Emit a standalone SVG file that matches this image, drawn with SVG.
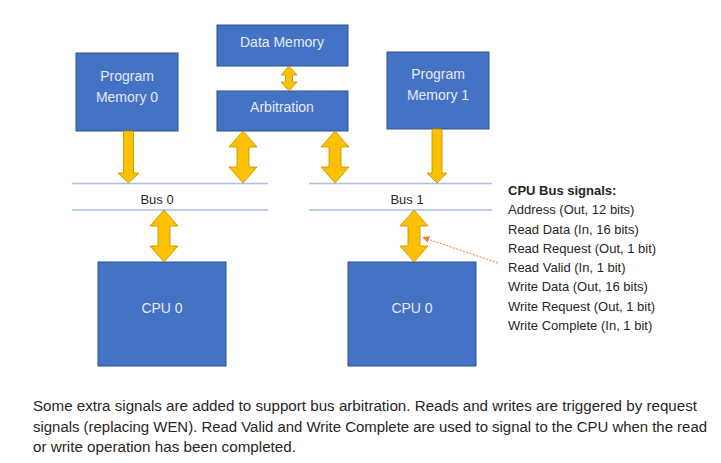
<svg xmlns="http://www.w3.org/2000/svg" width="721" height="463" viewBox="0 0 721 463">
<style>
.box{fill:#4472C4;stroke:#2F528F;stroke-width:1}
.bt{font-family:"Liberation Sans",Arial,sans-serif;font-size:14px;fill:#E4EAF6;text-anchor:middle}
.arr{fill:#FFC000;stroke:#BF9000;stroke-width:0.8}
.bus{stroke:#A9C0E6;stroke-width:1.5}
.bl{font-family:"Liberation Sans",Arial,sans-serif;font-size:13px;fill:#262626;text-anchor:middle}
.sig{font-family:"Liberation Sans",Arial,sans-serif;font-size:13px;fill:#262626}
.para{font-family:"Liberation Sans",Arial,sans-serif;font-size:14px;fill:#262626}
</style>
<defs>
<marker id="oh" viewBox="0 0 10 10" refX="9" refY="5" markerWidth="7" markerHeight="7" orient="auto">
<path d="M0,0 L10,5 L0,10 Z" fill="#ED7D31"/>
</marker>
</defs>
<rect width="721" height="463" fill="#FFFFFF"/>

<g id="bus0">
<line class="bus" x1="72" y1="183.5" x2="268" y2="183.5"/>
<line class="bus" x1="72" y1="210" x2="268" y2="210"/>
<text class="bl" x="157" y="204">Bus 0</text>
</g>
<g id="bus1">
<line class="bus" x1="309" y1="183.5" x2="492" y2="183.5"/>
<line class="bus" x1="309" y1="210" x2="492" y2="210"/>
<text class="bl" x="407" y="204">Bus 1</text>
</g>

<g id="pm0">
<rect class="box" x="76" y="53" width="102" height="78"/>
<text class="bt" x="127" y="81">Program</text>
<text class="bt" x="127" y="102">Memory 0</text>
</g>
<g id="datamem">
<rect class="box" x="217" y="25" width="131" height="41"/>
<text class="bt" x="282" y="47">Data Memory</text>
</g>
<g id="arb">
<rect class="box" x="217" y="91" width="131" height="40"/>
<text class="bt" x="282" y="112">Arbitration</text>
</g>
<g id="pm1">
<rect class="box" x="387" y="52" width="102" height="77"/>
<text class="bt" x="438" y="79">Program</text>
<text class="bt" x="438" y="100">Memory 1</text>
</g>
<g id="cpu0">
<rect class="box" x="98" y="262" width="128" height="104"/>
<text class="bt" x="162" y="313">CPU 0</text>
</g>
<g id="cpu1">
<rect class="box" x="348" y="262" width="128" height="104"/>
<text class="bt" x="412" y="313">CPU 0</text>
</g>

<g id="connectors">
<path class="arr" d="M289,66 L297,75 L292.5,75 L292.5,82 L297,82 L289,91 L281,82 L285.5,82 L285.5,75 L281,75 Z"/>
<path class="arr" d="M123.5,131 L133.5,131 L133.5,173 L139,173 L128.5,183 L118,173 L123.5,173 Z"/>
<path class="arr" d="M432,129 L442,129 L442,173 L447,173 L437,183 L427,173 L432,173 Z"/>
<path class="arr" d="M243,131 L257,147 L249,147 L249,167 L257,167 L243,183 L229,167 L237,167 L237,147 L229,147 Z"/>
<path class="arr" d="M335,131 L349,147 L341,147 L341,167 L349,167 L335,183 L321,167 L329,167 L329,147 L321,147 Z"/>
<path class="arr" d="M164,210 L178,226 L170,226 L170,246 L178,246 L164,262 L150,246 L158,246 L158,226 L150,226 Z"/>
<path class="arr" d="M414,210 L428,226 L420,226 L420,246 L428,246 L414,262 L400,246 L408,246 L408,226 L400,226 Z"/>
<line x1="498" y1="263" x2="423" y2="237.5" stroke="#ED7D31" stroke-width="1" stroke-dasharray="2,1.5" marker-end="url(#oh)"/>
</g>

<g id="signals">
<text class="sig" x="508" y="195" font-weight="bold">CPU Bus signals:</text>
<text class="sig" x="508" y="214">Address (Out, 12 bits)</text>
<text class="sig" x="508" y="233.5">Read Data (In, 16 bits)</text>
<text class="sig" x="508" y="253">Read Request (Out, 1 bit)</text>
<text class="sig" x="508" y="272">Read Valid (In, 1 bit)</text>
<text class="sig" x="508" y="291">Write Data (Out, 16 bits)</text>
<text class="sig" x="508" y="310.5">Write Request (Out, 1 bit)</text>
<text class="sig" x="508" y="330">Write Complete (In, 1 bit)</text>
</g>

<g id="paragraph">
<text class="para" x="33" y="411" textLength="664" lengthAdjust="spacingAndGlyphs">Some extra signals are added to support bus arbitration. Reads and writes are triggered by request</text>
<text class="para" x="33" y="432" textLength="674" lengthAdjust="spacingAndGlyphs">signals (replacing WEN). Read Valid and Write Complete are used to signal to the CPU when the read</text>
<text class="para" x="33" y="452" textLength="263" lengthAdjust="spacingAndGlyphs">or write operation has been completed.</text>
</g>
</svg>
